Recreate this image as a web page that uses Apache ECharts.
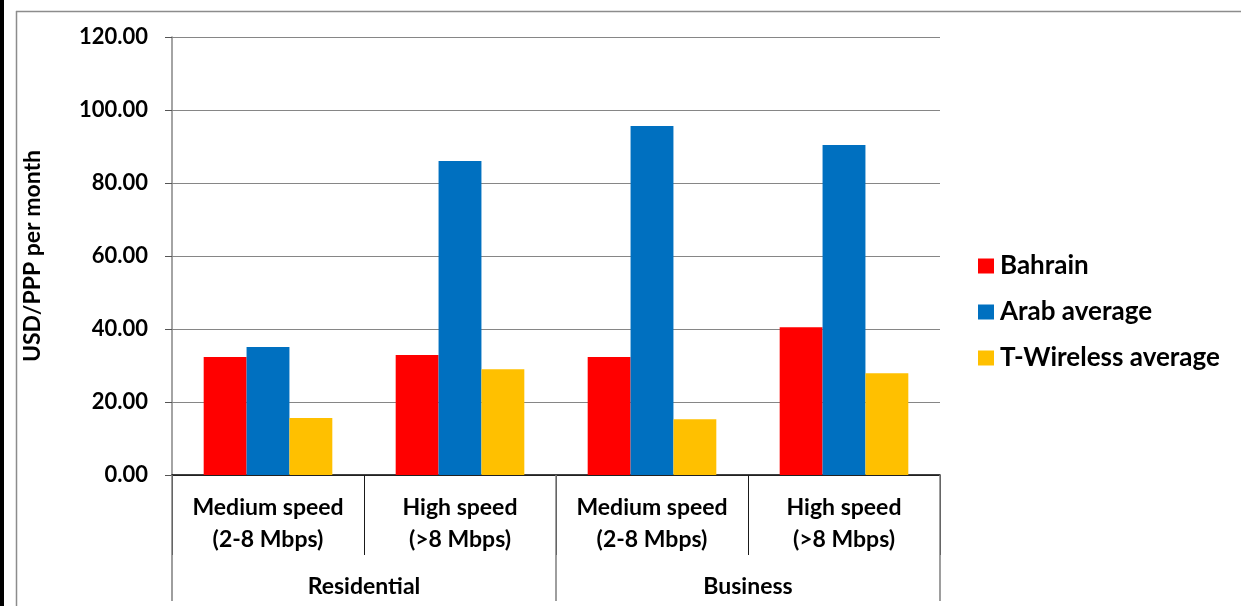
<!DOCTYPE html>
<html>
<head>
<meta charset="utf-8">
<script src="https://cdn.jsdelivr.net/npm/echarts@6/dist/echarts.min.js"></script>
<style>
  html, body { margin: 0; padding: 0; background: #ffffff; }
  #chart { width: 1241px; height: 606px; }
</style>
</head>
<body>
<div id="chart"></div>
<script>
// Monthly fixed broadband price baskets (USD/PPP per month)
const speedTiers = ['Medium speed\n(2-8 Mbps)', 'High speed\n(>8 Mbps)', 'Medium speed\n(2-8 Mbps)', 'High speed\n(>8 Mbps)'];
const segments = ['Residential', 'Business'];
const seriesNames = ['Bahrain', 'Arab average', 'T-Wireless average'];
const bahrain = [32.3, 32.9, 32.3, 40.5];
const arabAverage = [35.1, 86.0, 95.6, 90.4];
const tWirelessAverage = [15.6, 29.0, 15.3, 27.9];
const yTicks = { min: 0, max: 120, step: 20 };

const FONT = 'Lato';
const chart = echarts.init(document.getElementById('chart'), null, { renderer: 'canvas' });

chart.setOption({
  backgroundColor: '#ffffff',
  animation: false,
  textStyle: { fontFamily: FONT },
  color: ['#FF0000', '#0070C0', '#FFC000'],
  // outer frame of the chart area
  graphic: [
    { type: 'rect', shape: { x: 0, y: 0, width: 4, height: 606 }, style: { fill: '#000000' } },
    { type: 'line', shape: { x1: 16.5, y1: 11, x2: 16.5, y2: 606 }, style: { stroke: '#8c8c8c', lineWidth: 1.5 } },
    { type: 'line', shape: { x1: 16, y1: 11.5, x2: 1241, y2: 11.5 }, style: { stroke: '#8c8c8c', lineWidth: 1.5 } }
  ],
  grid: { left: 172, right: 301, top: 37, bottom: 131, containLabel: false },
  legend: {
    orient: 'vertical',
    left: 973,
    top: 248,
    itemWidth: 16,
    itemHeight: 15,
    itemGap: 20,
    icon: 'rect',
    data: seriesNames,
    textStyle: { fontFamily: FONT, fontWeight: 'bold', fontSize: 26, color: '#000', lineHeight: 26, padding: [0, 0, 0, 1] }
  },
  xAxis: [
    {
      type: 'category',
      data: speedTiers,
      position: 'bottom',
      axisLine: { show: true, lineStyle: { color: '#000000', width: 1.5 } },
      axisTick: { show: true, interval: 0, length: 80, lineStyle: { color: '#1a1a1a', width: 1 } },
      axisLabel: {
        interval: 0, margin: 17, fontFamily: FONT, fontWeight: 'bold', fontSize: 23,
        color: '#000', lineHeight: 32
      },
      splitLine: { show: false }
    },
    {
      type: 'category',
      data: segments,
      position: 'bottom',
      axisLine: { show: false },
      axisTick: { show: true, interval: 0, length: 126, lineStyle: { color: '#7f7f7f', width: 1.5 } },
      axisLabel: { interval: 0, margin: 100, fontFamily: FONT, fontWeight: 'bold', fontSize: 23, color: '#000' },
      splitLine: { show: false }
    }
  ],
  yAxis: {
    type: 'value',
    min: yTicks.min,
    max: yTicks.max,
    interval: yTicks.step,
    name: 'USD/PPP per month',
    nameLocation: 'middle',
    nameGap: 128,
    nameRotate: 90,
    nameTextStyle: { fontFamily: FONT, fontWeight: 'bold', fontSize: 23, color: '#000' },
    axisLine: { show: true, lineStyle: { color: '#868686', width: 1.5 } },
    axisTick: { show: true, inside: false, length: 7, lineStyle: { color: '#555' } },
    axisLabel: {
      margin: 24, fontFamily: FONT, fontWeight: 'bold', fontSize: 22, color: '#000',
      formatter: v => v.toFixed(2)
    },
    splitLine: { show: true, lineStyle: { color: '#868686', width: 1.2 } }
  },
  series: [
    { name: seriesNames[0], type: 'bar', xAxisIndex: 0, data: bahrain, barGap: '0%', barCategoryGap: '33%' },
    { name: seriesNames[1], type: 'bar', xAxisIndex: 0, data: arabAverage, barGap: '0%', barCategoryGap: '33%' },
    { name: seriesNames[2], type: 'bar', xAxisIndex: 0, data: tWirelessAverage, barGap: '0%', barCategoryGap: '33%' }
  ]
});
</script>
</body>
</html>
